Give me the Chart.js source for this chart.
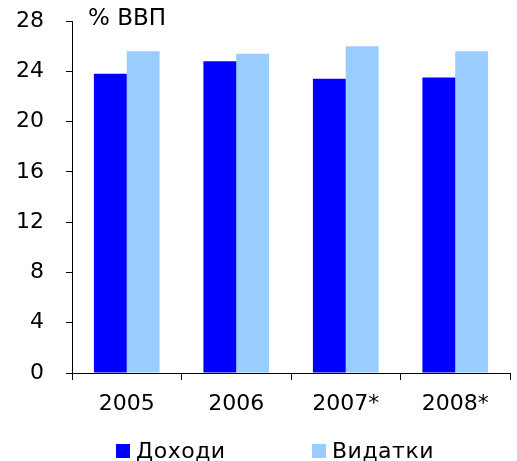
<!DOCTYPE html>
<html>
<head>
<meta charset="utf-8">
<script src="https://cdn.jsdelivr.net/npm/chart.js@4/dist/chart.umd.min.js"></script>
<style>
  html, body { margin: 0; padding: 0; background: #fff; }
  #wrap { width: 517px; height: 461px; }
</style>
</head>
<body>
<div id="wrap"><canvas id="myChart"></canvas></div>
<script>
const years = ["2005", "2006", "2007*", "2008*"];
const revenues = [23.8, 24.8, 23.4, 23.5];
const spending = [25.6, 25.4, 26.0, 25.6];
const seriesNames = ["Доходи", "Видатки"];
const unitLabel = "% ВВП";
const yTicks = [0, 4, 8, 12, 16, 20, 24, 28];

const font = "DejaVu Sans";

// unit text over the y axis
const unitPlugin = {
    id: "unitText",
    afterDraw(chart) {
        const ctx = chart.ctx;
        ctx.save();
        ctx.font = "23px '" + font + "'";
        ctx.fillStyle = "#000";
        ctx.textAlign = "left";
        ctx.textBaseline = "middle";
        ctx.fillText(unitLabel, chart.chartArea.left + 16, 19);
        ctx.restore();
    }
};

// legend at the bottom, wide gap between items
const legendPlugin = {
    id: "bottomLegend",
    afterDraw(chart) {
        const ctx = chart.ctx;
        const starts = [116, 312];
        const y = 451;
        ctx.save();
        ctx.font = "22px '" + font + "'";
        ctx.textBaseline = "middle";
        ctx.textAlign = "left";
        chart.data.datasets.forEach(function (ds, i) {
            ctx.fillStyle = ds.backgroundColor;
            ctx.fillRect(starts[i], y - 7, 14, 14);
            ctx.fillStyle = "#000";
            ctx.letterSpacing = "0.5px";
            ctx.fillText(ds.label, starts[i] + 20, y + 1);
        });
        ctx.restore();
    }
};

document.addEventListener("DOMContentLoaded", function () {
    const ctx = document.getElementById("myChart").getContext("2d");
    new Chart(ctx, {
        type: "bar",
        data: {
            labels: years,
            datasets: [
                { label: seriesNames[0], data: revenues, backgroundColor: "#0000FF", borderWidth: 0 },
                { label: seriesNames[1], data: spending, backgroundColor: "#99CCFF", borderWidth: 0 },
            ],
        },
        options: {
            responsive: true,
            maintainAspectRatio: false,
            animation: false,
            layout: { padding: { top: 21, right: 7, left: 0, bottom: 0 } },
            datasets: { bar: { categoryPercentage: 0.6, barPercentage: 1.0 } },
            plugins: {
                legend: { display: false },
                tooltip: { enabled: false },
            },
            scales: {
                x: {
                    afterFit: function (s) {
                        s.height = 88;
                        s.paddingLeft = 0;
                        s.paddingRight = 0;
                    },
                    grid: {
                        display: true,
                        drawOnChartArea: false,
                        drawTicks: true,
                        tickLength: 7,
                        color: "#000",
                        offset: true,
                    },
                    border: { color: "#000", width: 1 },
                    ticks: {
                        color: "#000",
                        font: { family: font, size: 22 },
                        padding: 11,
                        maxRotation: 0,
                    },
                },
                y: {
                    min: 0,
                    max: 28,
                    afterFit: function (s) {
                        s.width = 72;
                        s.paddingTop = 0;
                        s.paddingBottom = 0;
                    },
                    afterBuildTicks: function (s) {
                        s.ticks = yTicks.map(function (v) { return { value: v }; });
                    },
                    grid: {
                        display: true,
                        drawOnChartArea: false,
                        drawTicks: true,
                        tickLength: 6,
                        color: "#000",
                    },
                    border: { color: "#000", width: 1 },
                    ticks: {
                        color: "#000",
                        font: { family: font, size: 22 },
                        padding: 22,
                    },
                },
            },
        },
        plugins: [unitPlugin, legendPlugin],
    });
});
</script>
</body>
</html>
